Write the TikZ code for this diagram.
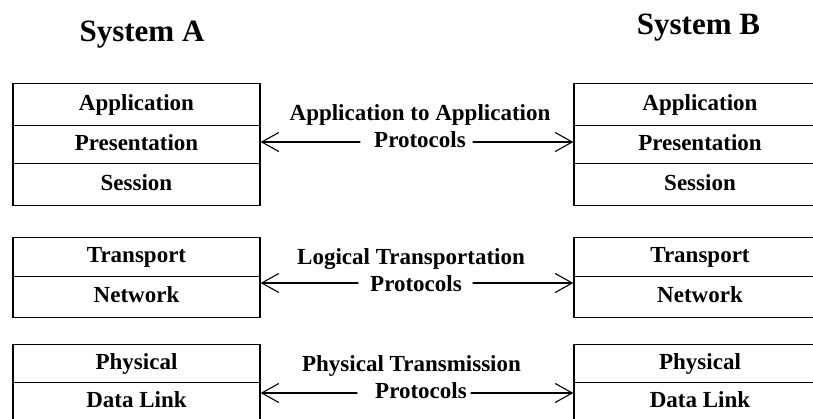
\documentclass[tikz,border=0pt]{standalone}
\usepackage{fontspec}
\setmainfont{Liberation Serif}
\usetikzlibrary{arrows.meta}
\newcommand{\layfont}{\fontsize{23}{27}\selectfont\bfseries}
\newcommand{\sysfont}{\fontsize{31}{36}\selectfont\bfseries}
\begin{document}
\begin{tikzpicture}[x=1pt,y=-1pt,
  layer/.style={draw, line width=1.3pt, inner sep=0pt, anchor=north, font=\layfont, text height=16pt, text depth=5pt},
  lbox/.style={layer, minimum width=247pt},
  rbox/.style={layer, minimum width=252pt},
  lbl/.style={font=\layfont, inner sep=0pt, anchor=base},
  arr/.style={line width=1.1pt, line cap=round, -{Straight Barb[length=17pt,width=19pt,line join=miter]}},
  systitle/.style={font=\sysfont, inner sep=0pt, anchor=base}]
\useasboundingbox (0,0) rectangle (813,419);
\clip (0,0) rectangle (813,419);
% titles
\node[systitle] (ta) at (142,41.7) {System A};
\node[systitle] (tb) at (698.5,35) {System B};
% left stack
\node[lbox, minimum height=42pt] (la1) at (136.5,83) {Application};
\node[lbox, minimum height=38pt] (la2) at (136.5,125) {Presentation};
\node[lbox, minimum height=42pt] (la3) at (136.5,163) {Session};
\node[lbox, minimum height=39pt] (lb1) at (136.5,237) {Transport};
\node[lbox, minimum height=41pt] (lb2) at (136.5,276) {Network};
\node[lbox, minimum height=38pt] (lc1) at (136.5,344) {Physical};
\node[lbox, minimum height=39pt] (lc2) at (136.5,382) {Data Link};
% right stack
\node[rbox, minimum height=42pt] (ra1) at (700,83) {Application};
\node[rbox, minimum height=38pt] (ra2) at (700,125) {Presentation};
\node[rbox, minimum height=42pt] (ra3) at (700,163) {Session};
\node[rbox, minimum height=39pt] (rb1) at (700,237) {Transport};
\node[rbox, minimum height=41pt] (rb2) at (700,276) {Network};
\node[rbox, minimum height=38pt] (rc1) at (700,344) {Physical};
\node[rbox, minimum height=39pt] (rc2) at (700,382) {Data Link};
% middle labels
\node[lbl] (h1) at (420,121) {Application to Application};
\node[lbl] (p1) at (420,148) {Protocols};
\node[lbl] (h2) at (411,265) {Logical Transportation};
\node[lbl] (p2) at (416,291) {Protocols};
\node[lbl] (h3) at (411.5,371.5) {Physical Transmission};
\node[lbl] (p3) at (421,398) {Protocols};
% arrows
\coordinate (al1) at (360,142);
\coordinate (ar1) at (473,142);
\coordinate (al2) at (358,283);
\coordinate (ar2) at (473,283);
\coordinate (al3) at (357,393);
\coordinate (ar3) at (471,393);
\draw[arr] (al1) -- (al1 -| la2.east);
\draw[arr] (ar1) -- (ar1 -| ra2.west);
\draw[arr] (al2) -- (al2 -| lb2.east);
\draw[arr] (ar2) -- (ar2 -| rb2.west);
\draw[arr] (al3) -- (al3 -| lc2.east);
\draw[arr] (ar3) -- (ar3 -| rc2.west);
\end{tikzpicture}
\end{document}
